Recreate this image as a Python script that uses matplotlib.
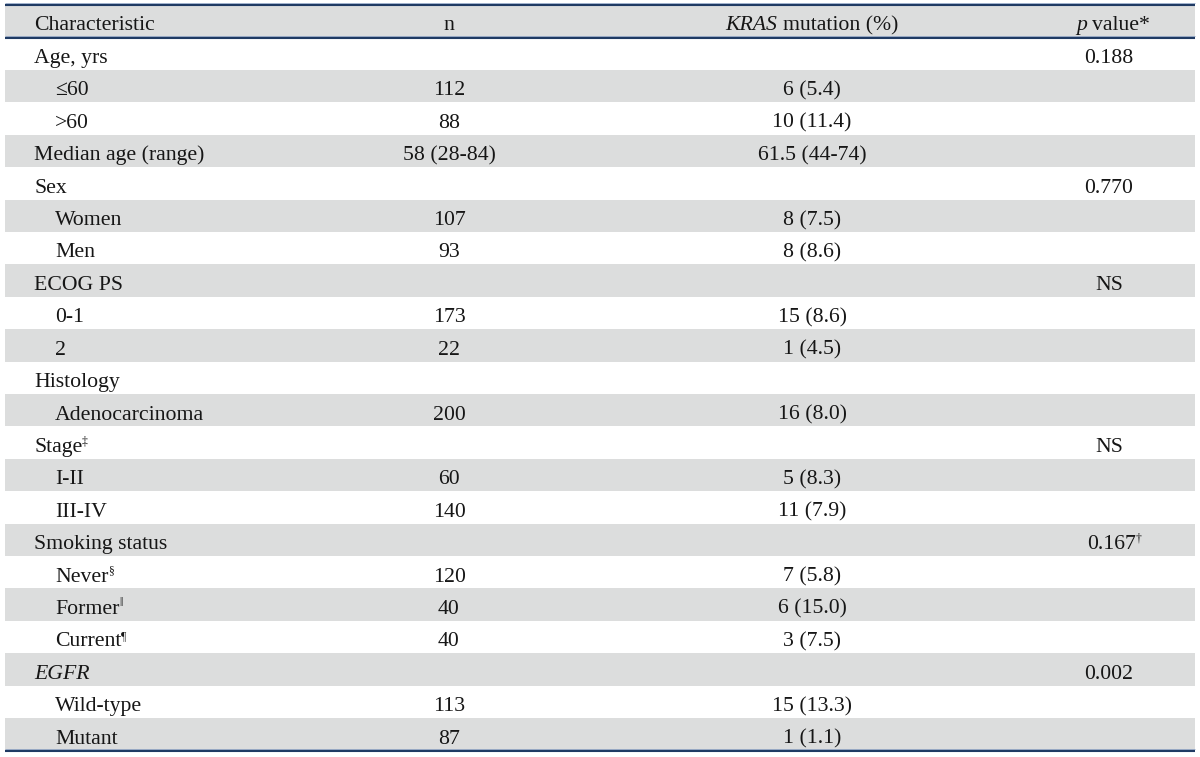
import matplotlib
matplotlib.use("Agg")
import matplotlib.pyplot as plt

# ── Table data ────────────────────────────────────────────────────────────────

labels = [
    "Age, yrs", "\u226460", ">60", "Median age (range)",
    "Sex", "Women", "Men",
    "ECOG PS", "0-1", "2",
    "Histology", "Adenocarcinoma",
    "Stage", "I-II", "III-IV",
    "Smoking status", "Never", "Former", "Current",
    "EGFR", "Wild-type", "Mutant",
]
indented = [0, 1, 1, 0, 0, 1, 1, 0, 1, 1, 0, 1, 0, 1, 1, 0, 1, 1, 1, 0, 1, 1]
label_marks = ["", "", "", "", "", "", "", "", "", "", "", "",
               "\u2021", "", "", "", "\u00a7", "\u2016", "\u00b6", "", "", ""]
italic_labels = ["EGFR"]

n_values = ["", "112", "88", "58 (28-84)", "", "107", "93", "", "173", "22",
            "", "200", "", "60", "140", "", "120", "40", "40", "", "113", "87"]
kras_values = ["", "6 (5.4)", "10 (11.4)", "61.5 (44-74)", "", "8 (7.5)", "8 (8.6)",
               "", "15 (8.6)", "1 (4.5)", "", "16 (8.0)", "", "5 (8.3)", "11 (7.9)",
               "", "7 (5.8)", "6 (15.0)", "3 (7.5)", "", "15 (13.3)", "1 (1.1)"]
p_values = ["0.188", "", "", "", "0.770", "", "", "NS", "", "", "", "", "NS", "", "",
            "0.167", "", "", "", "0.002", "", ""]
p_marks = [""] * 15 + ["\u2020"] + [""] * 6

# ── Style ─────────────────────────────────────────────────────────────────────

FONT = ["Liberation Serif", "DejaVu Serif"]
SIZE = 15.7
SUP_SIZE = 8.5
TEXT_COLOR = "#161616"
BAND = "#dcdddd"
RULE = "#1f3a63"

LEFT, RIGHT = 5, 1195
TOP, HEAD_BOTTOM, BOTTOM = 4.5, 37.5, 750.5
X_LABEL, X_INDENT = 34, 55
X_N, X_KRAS, X_P = 449, 812, 1109
BASELINE = 25.5

fig = plt.figure(figsize=(12, 7.57), dpi=100)
ax = fig.add_axes([0, 0, 1, 1])
ax.set_xlim(0, 1200)
ax.set_ylim(757, 0)
ax.axis("off")
renderer = fig.canvas.get_renderer()

base = dict(fontfamily=FONT, fontsize=SIZE, color=TEXT_COLOR, va="baseline")


def put_runs(x, y, runs, ha="left"):
    """Draw a list of (text, kwargs, gap_before, dy) runs as one line."""
    items = []
    for txt, kw, gap, dy in runs:
        style = dict(base)
        style.update(kw)
        t = ax.text(0, y + dy, txt, ha="left", **style)
        items.append((t, t.get_window_extent(renderer).width, gap))
    total = sum(w + g for _, w, g in items)
    start = {"left": x, "center": x - total / 2, "right": x - total}[ha]
    for t, w, g in items:
        start += g
        t.set_x(start)
        start += w


sup = dict(fontsize=SUP_SIZE)

# header band and text
ax.axhspan(TOP, HEAD_BOTTOM, xmin=LEFT / 1200, xmax=RIGHT / 1200, color=BAND, lw=0)
hy = TOP + BASELINE
put_runs(X_LABEL, hy, [("Characteristic", {}, 0, 0)])
put_runs(X_N, hy, [("n", {}, 0, 0)], ha="center")
put_runs(X_KRAS, hy, [("KRAS", {"fontstyle": "italic"}, 0, 0),
                      ("mutation (%)", {}, 5.4, 0)], ha="center")
put_runs(X_P + 4, hy, [("p", {"fontstyle": "italic"}, 0, 0),
                       ("value*", {}, 5.4, 0)], ha="center")

# body rows
row_h = (BOTTOM - HEAD_BOTTOM) / len(labels)
for i, lab in enumerate(labels):
    top = HEAD_BOTTOM + i * row_h
    if i % 2 == 1:
        ax.axhspan(top, top + row_h, xmin=LEFT / 1200, xmax=RIGHT / 1200,
                   color=BAND, lw=0)
    y = top + BASELINE
    kw = {"fontstyle": "italic"} if lab in italic_labels else {}
    runs = [(lab, kw, 0, 0)]
    if label_marks[i]:
        runs.append((label_marks[i], sup, -0.5, -7.5))
    put_runs(X_INDENT if indented[i] else X_LABEL, y, runs)
    if n_values[i]:
        put_runs(X_N, y, [(n_values[i], {}, 0, 0)], ha="center")
    if kras_values[i]:
        put_runs(X_KRAS, y, [(kras_values[i], {}, 0, 0)], ha="center")
    if p_values[i]:
        runs = [(p_values[i], {}, 0, 0)]
        if p_marks[i]:
            runs.append((p_marks[i], sup, -0.5, -7.5))
            put_runs(X_P - 22, y, runs, ha="left")
        else:
            put_runs(X_P, y, runs, ha="center")

# rules
for yy in (TOP, HEAD_BOTTOM, BOTTOM):
    ax.plot([LEFT, RIGHT], [yy, yy], color=RULE, lw=1.5, solid_capstyle="butt")
    ax.plot([LEFT, RIGHT], [yy - 1.2, yy - 1.2], color="#7d95bb", lw=0.5,
            solid_capstyle="butt")

fig.savefig("out.png", dpi=100)
